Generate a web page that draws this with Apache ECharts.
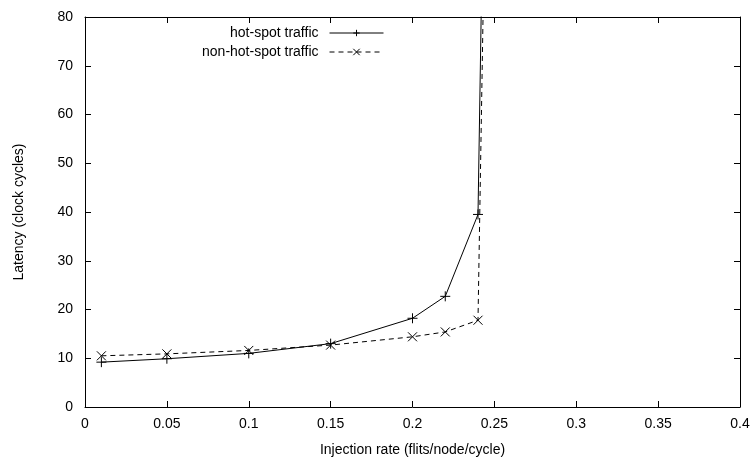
<!DOCTYPE html>
<html><head><meta charset="utf-8">
<script src="https://cdn.jsdelivr.net/npm/echarts@6/dist/echarts.min.js"></script>
<style>html,body{margin:0;padding:0;background:#fff}#c{width:755px;height:468px}</style>
</head><body><div id="c"></div>
<script>
const injectionRates = [0.01, 0.05, 0.1, 0.15, 0.2, 0.22, 0.24, 0.25];
const hotSpot = [9.2, 9.9, 11.0, 13.0, 18.2, 22.7, 39.5, 250];
const nonHotSpot = [10.5, 10.9, 11.6, 12.7, 14.4, 15.4, 17.8, 220];
const xTicks = [0, 0.05, 0.1, 0.15, 0.2, 0.25, 0.3, 0.35, 0.4];
const yTicks = [0, 10, 20, 30, 40, 50, 60, 70, 80];
const seriesNames = ['hot-spot traffic', 'non-hot-spot traffic'];

const FONT = 'Liberation Sans, Arial, sans-serif';
const plusPath = 'path://M0,5L10,5M5,0L5,10';
const crossPath = 'path://M0,0L10,10M10,0L0,10';

const chart = echarts.init(document.getElementById('c'));
const axBase = {
  axisLine: {show: true, onZero: false, lineStyle: {color: '#000', width: 1}},
  axisTick: {show: true, inside: true, length: 6, lineStyle: {color: '#000'}},
  splitLine: {show: false}
};
function pair(xs, ys) { return xs.map((x, i) => [x, ys[i]]); }
const legendBase = {
  orient: 'horizontal', align: 'right', right: 366,
  itemWidth: 54, itemHeight: 8, itemGap: 8,
  lineStyle: {width: 1},
  itemStyle: {borderWidth: 1},
  textStyle: {fontSize: 14, color: '#000', fontFamily: FONT, padding: [0, 6, 0, 0]}
};
chart.setOption({
  animation: false,
  textStyle: {fontFamily: FONT},
  grid: {left: 85, right: 15, top: 17, bottom: 61},
  xAxis: [
    Object.assign({}, axBase, {
      type: 'value', min: 0, max: 0.4, interval: 0.05, position: 'bottom',
      name: 'Injection rate (flits/node/cycle)', nameLocation: 'middle', nameGap: 36,
      nameTextStyle: {fontSize: 14, color: '#000', fontFamily: FONT},
      axisLabel: {fontSize: 14, color: '#000', margin: 10, fontFamily: FONT,
        formatter: v => { const t = xTicks.find(k => Math.abs(k - v) < 1e-9); return t === undefined ? '' : String(t); }}
    }),
    Object.assign({}, axBase, {
      type: 'value', min: 0, max: 0.4, interval: 0.05, position: 'top',
      axisLabel: {show: false}
    })
  ],
  yAxis: [
    Object.assign({}, axBase, {
      type: 'value', min: 0, max: 80, interval: 10, position: 'left',
      name: 'Latency (clock cycles)', nameLocation: 'middle', nameGap: 59,
      nameTextStyle: {fontSize: 14, color: '#000', fontFamily: FONT},
      axisLabel: {fontSize: 14, color: '#000', margin: 12, fontFamily: FONT,
        formatter: v => String(yTicks.find(k => k === v) ?? v)}
    }),
    Object.assign({}, axBase, {
      type: 'value', min: 0, max: 80, interval: 10, position: 'right',
      axisLabel: {show: false}
    })
  ],
  legend: [
    Object.assign({}, legendBase, {data: [seriesNames[0]], top: 21}),
    Object.assign({}, legendBase, {data: [seriesNames[1]], top: 40})
  ],
  series: [
    {name: seriesNames[0], type: 'line', data: pair(injectionRates, hotSpot), clip: true,
     symbol: plusPath, symbolSize: 10, showAllSymbol: true,
     lineStyle: {color: '#000', width: 1, type: 'solid'},
     itemStyle: {color: '#000', borderColor: '#000', borderWidth: 1}},
    {name: seriesNames[1], type: 'line', data: pair(injectionRates, nonHotSpot), clip: true,
     symbol: crossPath, symbolSize: 9, showAllSymbol: true,
     lineStyle: {color: '#000', width: 1, type: [5, 4]},
     itemStyle: {color: '#000', borderColor: '#000', borderWidth: 1}}
  ]
});
</script></body></html>
